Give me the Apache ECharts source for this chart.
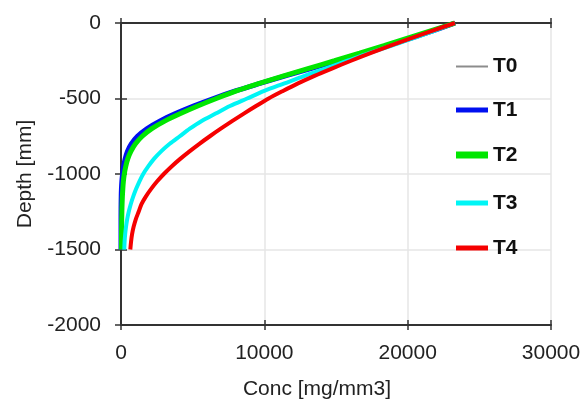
<!DOCTYPE html>
<html>
<head>
<meta charset="utf-8">
<script src="https://cdn.jsdelivr.net/npm/echarts@6/dist/echarts.min.js"></script>
<style>
  html, body { margin: 0; padding: 0; background: #fff; }
  #chart { width: 584px; height: 401px; }
</style>
</head>
<body>
<div id="chart"></div>
<script>
// depth profile, mm (y axis)
const depth = [0, -50, -100, -150, -200, -250, -300, -350, -400, -450, -500,
  -550, -600, -650, -700, -750, -800, -850, -900, -950, -1000,
  -1050, -1100, -1150, -1200, -1250, -1300, -1350, -1400, -1450, -1500]

// concentration, mg/mm3
const t0 = [23300, 21800, 20250, 18620, 16900, 15120, 13300, 11470, 9700, 7980, 6450,
  5050, 3800, 2700, 1800, 1150, 720, 450, 290, 180, 110,
  60, 30, 15, 6, 2, 0, 0, 0, 0, 0]
const t1 = [23300, 21800, 20250, 18620, 16900, 15120, 13300, 11470, 9700, 7980, 6450,
  5050, 3800, 2700, 1800, 1150, 720, 450, 290, 180, 110,
  60, 30, 15, 6, 2, 0, 0, 0, 0, 0]
const t2 = [23300, 21650, 20000, 18350, 16650, 14900, 13100, 11350, 9650, 8050, 6650,
  5350, 4150, 3050, 2150, 1480, 1010, 690, 470, 330, 230,
  165, 125, 95, 75, 60, 50, 42, 36, 32, 30]
const t3 = [23300, 21900, 20400, 18900, 17300, 15800, 14300, 12800, 11400, 10000, 8800,
  7600, 6600, 5600, 4800, 4100, 3400, 2800, 2300, 1900, 1550,
  1280, 1050, 850, 680, 540, 430, 350, 290, 250, 230]
const t4 = [23300, 21750, 20250, 18800, 17400, 16050, 14750, 13500, 12350, 11300, 10300,
  9420, 8570, 7750, 6960, 6200, 5470, 4780, 4130, 3530, 2990,
  2510, 2090, 1730, 1430, 1230, 1030, 880, 770, 700, 650]

const names = ['T0', 'T1', 'T2', 'T3', 'T4']
const profiles = [t0, t1, t2, t3, t4]
const colors = ['#8c8c8c', '#0010f0', '#00e600', '#00f5f5', '#f50000']
const widths = [1.5, 5, 5, 4, 4]
const legendTop = [52, 97, 143, 190, 235]
const legendHeight = [2, 5, 7, 5, 5]

const font = 'Liberation Sans, Arial, sans-serif'
const axisColor = '#333'

function xAx(pos, main, inside) {
  return {
    type: 'value', min: 0, max: 30000, interval: 10000, position: pos,
    axisLine: { show: main, onZero: false, lineStyle: { color: axisColor, width: 2 } },
    axisTick: { show: true, inside: inside, length: 5, lineStyle: { color: axisColor, width: 1.5 } },
    axisLabel: {
      show: main && pos === 'bottom', margin: 18, color: '#222', fontSize: 21, fontFamily: font,
      formatter: v => String(v)
    },
    splitLine: { show: main && pos === 'bottom', lineStyle: { color: '#e6e6e6', width: 1.5 } },
    name: main && pos === 'bottom' ? 'Conc [mg/mm3]' : '',
    nameLocation: 'middle',
    nameGap: 54,
    nameTextStyle: { color: '#222', fontSize: 21, fontFamily: font, padding: [0, 38, 0, 0] }
  }
}

function yAx(main, inside) {
  return {
    type: 'value', min: -2000, max: 0, interval: 500, position: 'left',
    axisLine: { show: main, onZero: false, lineStyle: { color: axisColor, width: 2 } },
    axisTick: { show: true, inside: inside, length: 6, lineStyle: { color: axisColor, width: 1.5 } },
    axisLabel: {
      show: main, margin: 20, color: '#222', fontSize: 21, fontFamily: font,
      formatter: v => String(v)
    },
    splitLine: { show: main, lineStyle: { color: '#e6e6e6', width: 1.5 } },
    name: main ? 'Depth [mm]' : '',
    nameLocation: 'middle',
    nameGap: 85,
    nameTextStyle: { color: '#222', fontSize: 21, fontFamily: font }
  }
}

const chart = echarts.init(document.getElementById('chart'), null, { renderer: 'canvas' })

chart.setOption({
  animation: false,
  backgroundColor: '#fff',
  grid: { left: 121, right: 33, top: 23, bottom: 76, containLabel: false, outerBoundsMode: 'none' },
  xAxis: [xAx('bottom', true, false), xAx('bottom', false, true), xAx('top', true, false), xAx('top', false, true)],
  yAxis: [yAx(true, false), yAx(false, true)],
  legend: names.map((n, i) => ({
    data: [n],
    left: 451,
    top: legendTop[i] - legendHeight[i] / 2,
    icon: 'rect',
    itemWidth: 32,
    itemHeight: legendHeight[i],
    selectedMode: false,
    textStyle: { color: '#111', fontSize: 21, fontWeight: 'bold', fontFamily: font }
  })),
  series: names.map((n, i) => ({
    name: n,
    type: 'line',
    xAxisIndex: 0,
    yAxisIndex: 0,
    showSymbol: false,
    symbol: 'none',
    smooth: 0.3,
    color: colors[i],
    lineStyle: { color: colors[i], width: widths[i] },
    data: depth.map((d, k) => [profiles[i][k], d])
  }))
})
</script>
</body>
</html>
